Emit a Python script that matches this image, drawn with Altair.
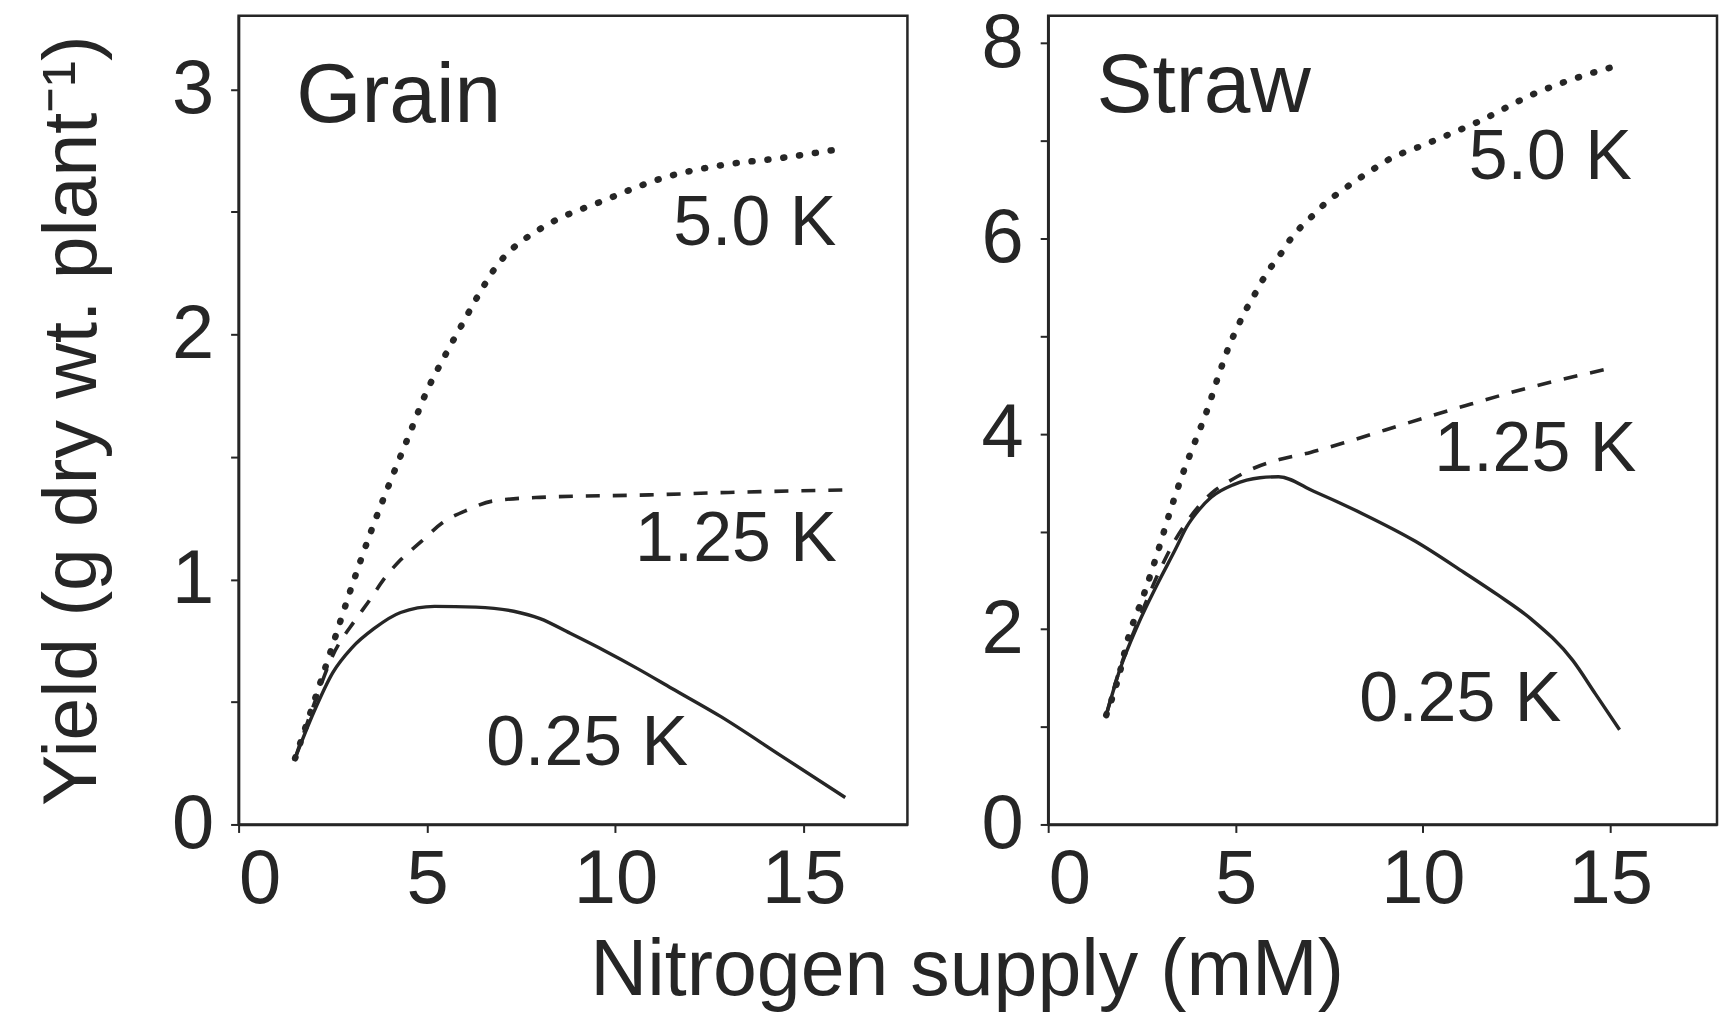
import altair as alt
import pandas as pd

INK = "#262626"
FONT = "Liberation Sans"

# ---------------- Grain panel data (N supply mM -> yield g/plant) ----------------
grain_025_x = [1.5, 2.0, 2.5, 3.0, 3.6, 4.3, 5.2, 6.3, 7.3, 8.0, 8.8, 9.7, 10.6, 11.5, 12.8, 14.4, 16.1]
grain_025_y = [0.27, 0.46, 0.62, 0.72, 0.80, 0.865, 0.89, 0.887, 0.87, 0.84, 0.78, 0.71, 0.635, 0.555, 0.44, 0.28, 0.11]

grain_125_x = [1.5, 2.0, 2.5, 3.1, 3.5, 3.85, 4.3, 4.85, 5.4, 6.1, 6.75, 8.0, 10.9, 13.0, 16.1]
grain_125_y = [0.27, 0.49, 0.69, 0.835, 0.92, 1.0, 1.08, 1.155, 1.23, 1.285, 1.32, 1.335, 1.345, 1.355, 1.365]

grain_50_x = [1.5, 2.0, 2.45, 3.0, 3.5, 4.0, 4.5, 5.0, 5.5, 6.0, 6.4, 6.9, 7.2, 8.0, 9.75, 11.3, 12.8, 14.4, 16.1]
grain_50_y = [0.27, 0.50, 0.71, 0.97, 1.19, 1.39, 1.58, 1.77, 1.92, 2.06, 2.17, 2.29, 2.34, 2.43, 2.55, 2.64, 2.69, 2.72, 2.76]

# ---------------- Straw panel data ----------------
straw_025_x = [1.55, 1.9, 2.4, 2.9, 3.4, 3.7, 4.0, 4.35, 4.95, 5.65, 6.15, 7.1, 8.4, 9.8, 11.1, 12.0, 12.9, 14.0, 14.6, 15.25]
straw_025_y = [1.12, 1.57, 2.05, 2.45, 2.82, 3.05, 3.21, 3.35, 3.48, 3.55, 3.56, 3.41, 3.18, 2.90, 2.58, 2.35, 2.10, 1.68, 1.34, 0.97]

straw_125_x = [1.55, 1.9, 2.4, 3.1, 3.4, 3.65, 4.0, 4.45, 4.9, 5.5, 6.2, 7.0, 8.0, 9.0, 10.1, 11.15, 12.9, 15.0]
straw_125_y = [1.12, 1.58, 2.08, 2.70, 2.92, 3.07, 3.25, 3.42, 3.53, 3.65, 3.74, 3.81, 3.92, 4.04, 4.17, 4.29, 4.48, 4.67]

straw_50_x = [1.55, 1.9, 2.1, 2.55, 2.9, 3.25, 3.6, 3.9, 4.25, 4.55, 4.85, 5.05, 5.25, 5.5, 5.7, 5.95,
              6.2, 6.5, 6.8, 7.1, 7.45, 7.8, 8.2, 8.6, 9.0, 10.1, 11.5, 12.9, 14.3, 15.2]
straw_50_y = [1.12, 1.54, 1.86, 2.35, 2.76, 3.2, 3.6, 3.9, 4.25, 4.6, 4.92, 5.09, 5.25, 5.42, 5.56, 5.71,
              5.84, 6.01, 6.14, 6.25, 6.38, 6.48, 6.59, 6.69, 6.79, 6.97, 7.2, 7.47, 7.67, 7.77]

# ---------------- annotations ----------------
grain_label_text = ["Grain", "5.0 K", "1.25 K", "0.25 K"]
grain_label_x = [4.25, 13.7, 13.2, 9.25]
grain_label_y = [2.97, 2.45, 1.16, 0.33]

straw_label_text = ["Straw", "5.0 K", "1.25 K", "0.25 K"]
straw_label_x = [4.15, 13.4, 13.0, 11.0]
straw_label_y = [7.55, 6.82, 3.83, 1.27]

x_ticks = [0, 5, 10, 15]
grain_y_ticks = [0, 0.5, 1, 1.5, 2, 2.5, 3]
straw_y_ticks = [0, 1, 2, 3, 4, 5, 6, 7, 8]

Y_TITLE = "Yield (g dry wt. plant\u207b\u00b9)"
X_TITLE = "Nitrogen supply (mM)"

H = 810


def series_layer(xs, ys, xscale, yscale, yaxis, style):
    df = pd.DataFrame({"x": xs, "y": ys})
    if style == "solid":
        mark = alt.Chart(df).mark_line(color=INK, strokeWidth=3.4, interpolate="monotone")
    elif style == "dashed":
        mark = alt.Chart(df).mark_line(color=INK, strokeWidth=3.6, strokeDash=[14, 13],
                                       interpolate="monotone")
    else:
        mark = alt.Chart(df).mark_line(color=INK, strokeWidth=6.5, strokeDash=[1, 15],
                                       strokeCap="round", interpolate="monotone")
    return mark.encode(
        x=alt.X("x:Q", scale=xscale, axis=alt.Axis(values=x_ticks, title=None)),
        y=alt.Y("y:Q", scale=yscale, axis=yaxis),
    )


def panel(series, texts, lx, ly, xdom, ydom, yticks, label_step, ytitle, width):
    xscale = alt.Scale(domain=xdom, nice=False, zero=False)
    yscale = alt.Scale(domain=ydom, nice=False, zero=False)
    axis_kwargs = dict(
        values=yticks,
        labelExpr=f"datum.value % {label_step} == 0 ? format(datum.value, 'd') : ''",
        labelPadding=17,
    )
    if ytitle:
        yaxis = alt.Axis(title=ytitle, titlePadding=60, **axis_kwargs)
    else:
        yaxis = alt.Axis(title=None, **axis_kwargs)
    layers = [series_layer(xs, ys, xscale, yscale, yaxis, st) for xs, ys, st in series]
    lab = pd.DataFrame({"t": texts, "x": lx, "y": ly, "big": [1, 0, 0, 0]})
    title_txt = alt.Chart(lab[lab.big == 1]).mark_text(
        font=FONT, fontSize=84, color=INK, align="center", baseline="middle"
    ).encode(x=alt.X("x:Q", scale=xscale), y=alt.Y("y:Q", scale=yscale), text="t:N")
    line_txt = alt.Chart(lab[lab.big == 0]).mark_text(
        font=FONT, fontSize=70, color=INK, align="center", baseline="middle"
    ).encode(x=alt.X("x:Q", scale=xscale), y=alt.Y("y:Q", scale=yscale), text="t:N")
    return alt.layer(*layers, title_txt, line_txt).properties(width=width, height=H)


left = panel(
    [(grain_025_x, grain_025_y, "solid"), (grain_125_x, grain_125_y, "dashed"), (grain_50_x, grain_50_y, "dotted")],
    grain_label_text, grain_label_x, grain_label_y, [0, 17.75], [0, 3.3], grain_y_ticks, 1, Y_TITLE, 670,
)
right = panel(
    [(straw_025_x, straw_025_y, "solid"), (straw_125_x, straw_125_y, "dashed"), (straw_50_x, straw_50_y, "dotted")],
    straw_label_text, straw_label_x, straw_label_y, [0, 17.85], [0, 8.28], straw_y_ticks, 2, None, 670,
)

chart = alt.hconcat(left, right, spacing=141, bounds="flush").properties(
    title=alt.TitleParams(X_TITLE, orient="bottom", anchor="middle", font=FONT, fontSize=79,
                          fontWeight="normal", color=INK, offset=15, dx=92),
    padding={"left": 24, "top": -5, "right": 0, "bottom": 0},
).configure_view(
    stroke=INK, strokeWidth=2.5
).configure_axis(
    domainColor=INK, domainWidth=2.5, tickColor=INK, tickWidth=2, tickSize=8,
    labelFont=FONT, labelFontSize=76, labelColor=INK, grid=False,
    titleFont=FONT, titleFontSize=77, titleFontWeight="normal", titleColor=INK,
).configure_axisX(labelPadding=10)

chart.save("out.html", embed_options={"renderer": "svg", "actions": False})
